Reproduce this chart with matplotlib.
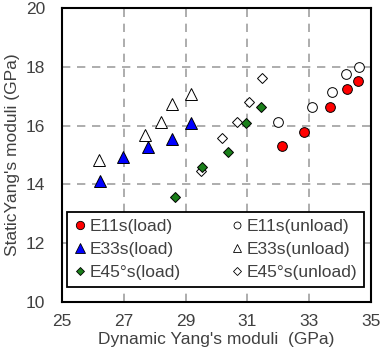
import matplotlib.pyplot as plt
from matplotlib.lines import Line2D

plt.rcParams['font.family'] = ['Liberation Sans', 'DejaVu Sans']

# data (dynamic, static) in GPa
e11_load_x = [32.13, 32.84, 33.67, 34.21, 34.59]
e11_load_y = [15.29, 15.78, 16.64, 17.25, 17.52]
e11_unload_x = [31.98, 33.10, 33.74, 34.19, 34.60]
e11_unload_y = [16.12, 16.62, 17.15, 17.76, 18.01]

e33_load_x = [26.23, 26.98, 27.77, 28.57, 29.16]
e33_load_y = [14.10, 14.92, 15.26, 15.55, 16.09]
e33_unload_x = [26.19, 27.70, 28.19, 28.57, 29.16]
e33_unload_y = [14.83, 15.67, 16.12, 16.74, 17.09]

e45_load_x = [28.66, 29.54, 30.37, 30.94, 31.45]
e45_load_y = [13.57, 14.58, 15.11, 16.08, 16.62]
e45_unload_x = [29.50, 30.17, 30.65, 31.05, 31.46]
e45_unload_y = [14.47, 15.58, 16.12, 16.80, 17.62]

TXT = '#404040'
FS = 12.5

fig = plt.figure(figsize=(3.81, 3.62), dpi=100)
ax = fig.add_axes([62 / 381, 1 - 302 / 362, 309 / 381, 294 / 362])

ms = 7
ax.plot(e11_unload_x, e11_unload_y, 'o', ms=ms, mfc='white', mec='black', mew=0.7, ls='none')
ax.plot(e11_load_x, e11_load_y, 'o', ms=ms, mfc='red', mec='black', mew=0.7, ls='none')
ax.plot(e33_unload_x, e33_unload_y, '^', ms=ms + 1, mfc='white', mec='black', mew=0.7, ls='none')
ax.plot(e33_load_x, e33_load_y, '^', ms=ms + 1, mfc='blue', mec='black', mew=0.7, ls='none')
ax.plot(e45_unload_x, e45_unload_y, 'D', ms=ms - 1.5, mfc='white', mec='black', mew=0.7, ls='none')
ax.plot(e45_load_x, e45_load_y, 'D', ms=ms - 1.5, mfc='#1a7f1a', mec='black', mew=0.7, ls='none')

ax.set_xlim(25, 35)
ax.set_ylim(10, 20)
ax.set_xticks(range(25, 36, 2))
ax.set_yticks(range(10, 21, 2))
ax.tick_params(length=0, labelsize=FS, labelcolor=TXT)
ax.tick_params(axis='y', pad=12)
ax.tick_params(axis='x', pad=9)
ax.grid(True, color='#a0a0a0', linestyle=(0, (5, 4)), linewidth=1.2)
ax.set_axisbelow(True)
for sp in ax.spines.values():
    sp.set_linewidth(1.5)
    sp.set_color('black')

ax.set_xlabel("Dynamic Yang's moduli  (GPa)", fontsize=FS, color=TXT, labelpad=2)
ax.set_ylabel("StaticYang's moduli (GPa)", fontsize=FS, color=TXT, labelpad=4)

handles = [
    Line2D([], [], marker='o', ls='none', ms=6, mfc='red', mec='black', mew=0.6),
    Line2D([], [], marker='^', ls='none', ms=6.5, mfc='blue', mec='black', mew=0.6),
    Line2D([], [], marker='D', ls='none', ms=4.5, mfc='#1a7f1a', mec='black', mew=0.6),
    Line2D([], [], marker='o', ls='none', ms=5, mfc='white', mec='black', mew=0.6),
    Line2D([], [], marker='^', ls='none', ms=5.5, mfc='white', mec='black', mew=0.6),
    Line2D([], [], marker='D', ls='none', ms=4.5, mfc='white', mec='black', mew=0.6),
]
labels = ['E11s(load)', 'E33s(load)', 'E45°s(load)',
          'E11s(unload)', 'E33s(unload)', 'E45°s(unload)']
leg = ax.legend(handles, labels, ncol=2, loc='lower left',
                bbox_to_anchor=(0.016, 0.051, 0.961, 0.256), mode='expand',
                fontsize=FS, frameon=True, fancybox=False, framealpha=1,
                edgecolor='black', handlelength=0.7, handletextpad=0.2,
                labelspacing=0.45, borderpad=0.4, columnspacing=0.6,
                borderaxespad=0)
leg.get_frame().set_linewidth(1.3)
for t in leg.get_texts():
    t.set_color(TXT)

fig.savefig('out.png', dpi=100)
